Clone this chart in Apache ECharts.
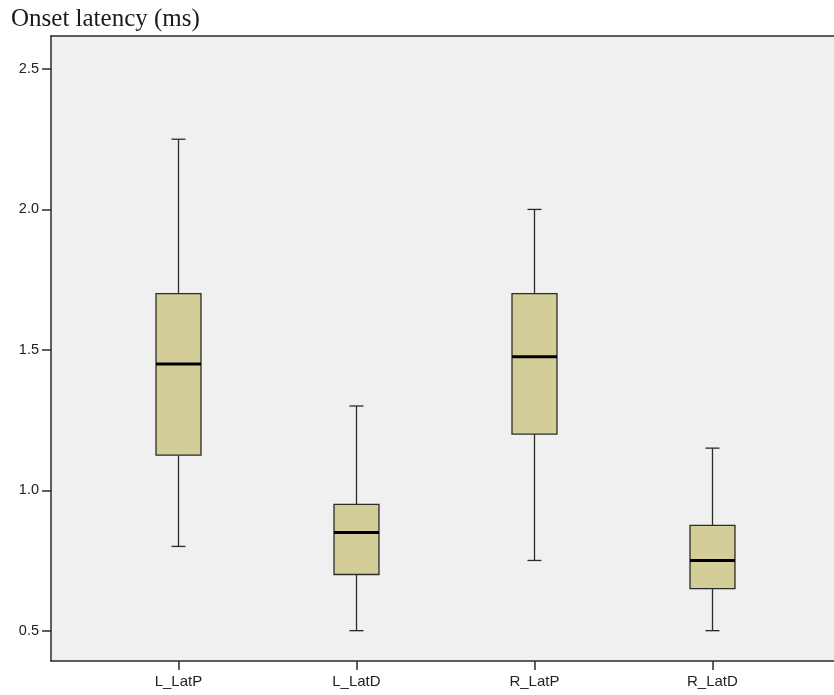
<!DOCTYPE html>
<html>
<head>
<meta charset="utf-8">
<script src="https://cdn.jsdelivr.net/npm/echarts@6/dist/echarts.min.js"></script>
<style>
  html, body { margin: 0; padding: 0; background: #fff; }
  #chart { width: 834px; height: 695px; }
</style>
</head>
<body>
<div id="chart"></div>
<script>
// Onset latency per measurement site (ms)
const categories = ['L_LatP', 'L_LatD', 'R_LatP', 'R_LatD'];
const whiskerLow  = [0.80, 0.50, 0.75, 0.50];
const quartile1   = [1.125, 0.70, 1.20, 0.65];
const medians     = [1.45, 0.85, 1.475, 0.75];
const quartile3   = [1.70, 0.95, 1.70, 0.875];
const whiskerHigh = [2.25, 1.30, 2.00, 1.15];
const yTicks = [0.5, 1.0, 1.5, 2.0, 2.5];

// rows: [position, low, q1, median, q3, high]
const boxRows = categories.map((c, i) => [i + 1, whiskerLow[i], quartile1[i], medians[i], quartile3[i], whiskerHigh[i]]);
const positions = categories.map((c, i) => i + 1);

const BOX_W = 45, CAP_W = 14;
const EDGE = '#2b2b2b';
const X_MIN = 0.284, X_MAX = 4.683;

function renderBox(params, api) {
  const x = api.value(0);
  const pLow = api.coord([x, api.value(1)]);
  const pQ1 = api.coord([x, api.value(2)]);
  const pMed = api.coord([x, api.value(3)]);
  const pQ3 = api.coord([x, api.value(4)]);
  const pHigh = api.coord([x, api.value(5)]);
  const cx = Math.round(pMed[0]) + 0.5;
  const lineStyle = { stroke: EDGE, lineWidth: 1.3, fill: null };
  return {
    type: 'group',
    children: [
      { type: 'line', shape: { x1: cx, y1: pQ3[1], x2: cx, y2: pHigh[1] }, style: lineStyle },
      { type: 'line', shape: { x1: cx, y1: pQ1[1], x2: cx, y2: pLow[1] }, style: lineStyle },
      { type: 'line', shape: { x1: cx - CAP_W / 2, y1: pHigh[1], x2: cx + CAP_W / 2, y2: pHigh[1] }, style: lineStyle },
      { type: 'line', shape: { x1: cx - CAP_W / 2, y1: pLow[1], x2: cx + CAP_W / 2, y2: pLow[1] }, style: lineStyle },
      { type: 'rect', shape: { x: cx - BOX_W / 2, y: pQ3[1], width: BOX_W, height: pQ1[1] - pQ3[1] },
        style: { fill: '#d3ce98', stroke: EDGE, lineWidth: 1.3 } },
      { type: 'line', shape: { x1: cx - BOX_W / 2, y1: pMed[1], x2: cx + BOX_W / 2, y2: pMed[1] },
        style: { stroke: '#000', lineWidth: 3 } }
    ]
  };
}

const chart = echarts.init(document.getElementById('chart'), null, { renderer: 'canvas' });
chart.setOption({
  animation: false,
  backgroundColor: '#ffffff',
  title: {
    text: 'Onset latency (ms)',
    left: 6,
    top: 2,
    textStyle: { fontFamily: 'Liberation Serif', fontWeight: 'normal', fontSize: 25, color: '#1a1a1a' }
  },
  grid: {
    left: 51, right: 0, top: 36, bottom: 34,
    show: true, backgroundColor: '#f0f0f0', borderWidth: 0
  },
  xAxis: [{
    type: 'value',
    min: X_MIN, max: X_MAX,
    splitLine: { show: false },
    axisLine: { show: true, lineStyle: { color: EDGE, width: 1.5 } },
    axisTick: { show: true, length: 9, customValues: positions, lineStyle: { color: EDGE, width: 1.5 } },
    axisLabel: {
      customValues: positions,
      formatter: v => categories[Math.round(v) - 1],
      margin: 13,
      fontFamily: 'Liberation Sans', fontSize: 15, color: '#222'
    }
  }, {
    // plain frame line along the top of the plot area
    type: 'value',
    position: 'top',
    min: X_MIN, max: X_MAX,
    splitLine: { show: false },
    axisLine: { show: true, lineStyle: { color: EDGE, width: 1.5 } },
    axisTick: { show: false },
    axisLabel: { show: false }
  }],
  yAxis: {
    type: 'value',
    min: 0.392, max: 2.6175,
    splitLine: { show: false },
    axisLine: { show: true, lineStyle: { color: EDGE, width: 1.5 } },
    axisTick: { show: true, length: 9, customValues: yTicks, lineStyle: { color: EDGE, width: 1.5 } },
    axisLabel: {
      customValues: yTicks,
      formatter: v => v.toFixed(1),
      margin: 12,
      fontFamily: 'Liberation Sans', fontSize: 14.5, color: '#222'
    }
  },
  series: [{
    type: 'custom',
    renderItem: renderBox,
    data: boxRows,
    encode: { x: 0, y: [1, 2, 3, 4, 5] },
    clip: false
  }]
});
</script>
</body>
</html>
